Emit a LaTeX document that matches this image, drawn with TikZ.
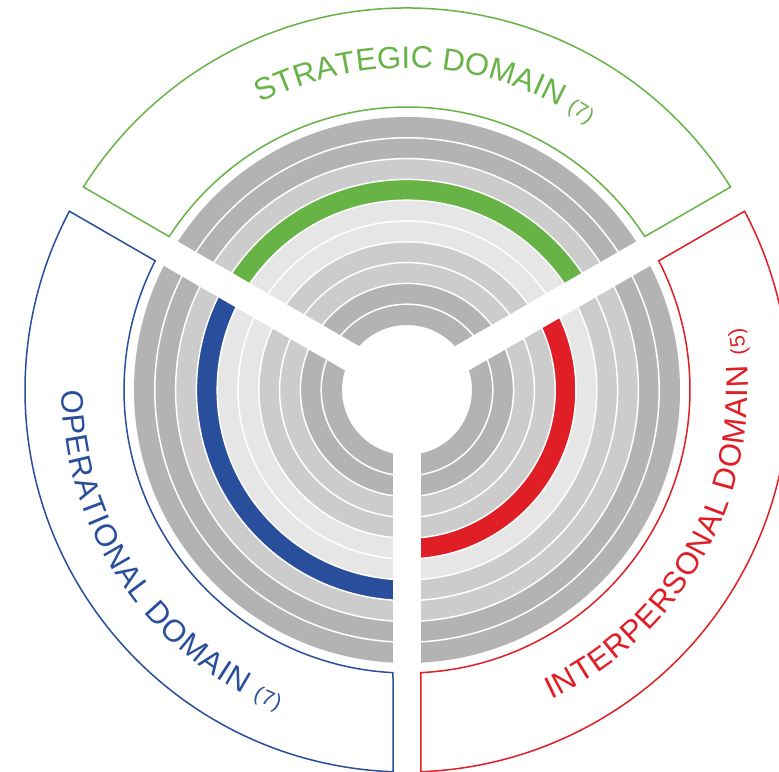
\documentclass[tikz,border=0pt]{standalone}
\usepackage{fontspec}
\setmainfont{Liberation Sans}
\usetikzlibrary{decorations.text}
\definecolor{ringdark}{HTML}{B3B3B3}
\definecolor{ringmid}{HTML}{CCCCCC}
\definecolor{ringlight}{HTML}{E6E6E6}
\definecolor{stratgreen}{HTML}{67B346}
\definecolor{operblue}{HTML}{294E9B}
\definecolor{interred}{HTML}{E01E26}

\begin{document}
\begin{tikzpicture}[x=1pt,y=1pt,
  ring/.style={line width=20.8pt},
  ringsep/.style={draw=white,line width=1.5pt},
  gapbar/.style={draw=white,line width=28pt},
  domainline/.style={line width=1.5pt},
  arctext/.style={decorate,decoration={text along path,text align=fit to path,text={#1}}}]
\useasboundingbox (-407,-381) rectangle (372,390);
\clip (-407,-381) rectangle (372,390);
\fill[white] (-407,-381) rectangle (372,390);
\foreach \i/\c in {0/ringdark,1/ringdark,2/ringmid,3/ringmid,4/ringlight,5/ringlight,6/ringmid,7/ringmid,8/ringdark,9/ringdark}
  \draw[ring,\c] (0,0) circle ({75.4+20.8*\i});
\draw[ring,stratgreen] (30:200.2) arc[start angle=30,end angle=150,radius=200.2];
\draw[ring,operblue] (150:200.2) arc[start angle=150,end angle=270,radius=200.2];
\draw[ring,interred] (270:158.6) arc[start angle=270,end angle=390,radius=158.6];
\foreach \k in {1,...,9}
  \draw[ringsep] (0,0) circle ({65+20.8*\k});
\foreach \a in {30,150,270}
  \draw[gapbar] (0,0) -- (\a:292);
\draw[domainline,stratgreen]
  ({150-asin(14/283)}:283) arc[start angle={150-asin(14/283)},end angle={30+asin(14/283)},radius=283]
  -- ({30+asin(14/382)}:382) arc[start angle={30+asin(14/382)},end angle={150-asin(14/382)},radius=382] -- cycle;
\draw[domainline,operblue]
  ({150+asin(14/283)}:283) arc[start angle={150+asin(14/283)},end angle={270-asin(14/283)},radius=283]
  -- ({270-asin(14/382)}:382) arc[start angle={270-asin(14/382)},end angle={150+asin(14/382)},radius=382] -- cycle;
\draw[domainline,interred]
  ({270+asin(14/283)}:283) arc[start angle={270+asin(14/283)},end angle={390-asin(14/283)},radius=283]
  -- ({390-asin(14/382)}:382) arc[start angle={390-asin(14/382)},end angle={270+asin(14/382)},radius=382] -- cycle;
\path[arctext={|\color{stratgreen}\fontsize{31}{31}\selectfont|STRATEGIC DOMAIN |\color{stratgreen}\fontsize{21}{21}\selectfont|(7)}]
  (117:322) arc[start angle=117,end angle=56,radius=322];
\path[arctext={|\color{operblue}\fontsize{31}{31}\selectfont|OPERATIONAL DOMAIN |\color{operblue}\fontsize{21}{21}\selectfont|(7)}]
  (180:345) arc[start angle=180,end angle=248,radius=345];
\path[arctext={|\color{interred}\fontsize{31}{31}\selectfont|INTERPERSONAL DOMAIN |\color{interred}\fontsize{21}{21}\selectfont|(5)}]
  (295:341) arc[start angle=295,end angle=370.5,radius=341];
\end{tikzpicture}
\end{document}
